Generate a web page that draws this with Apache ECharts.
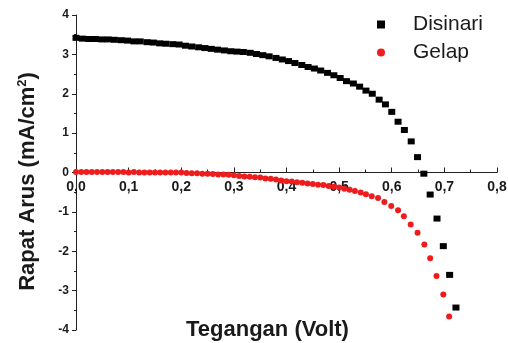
<!DOCTYPE html>
<html>
<head>
<meta charset="utf-8">
<script src="https://cdn.jsdelivr.net/npm/echarts@6/dist/echarts.min.js"></script>
<style>html,body{margin:0;padding:0;background:#fff}#c{width:508px;height:343px}</style>
</head>
<body>
<div id="c"></div>
<script>
const xTicks = [0, 0.1, 0.2, 0.3, 0.4, 0.5, 0.6, 0.7, 0.8];
const yTicks = [-4, -3, -2, -1, 0, 1, 2, 3, 4];

const disinariX = [0.000,0.012,0.024,0.037,0.049,0.061,0.073,0.086,0.098,0.110,0.122,0.135,0.147,0.159,0.171,0.184,0.196,0.208,0.220,0.233,0.245,0.257,0.269,0.282,0.294,0.306,0.318,0.331,0.343,0.355,0.367,0.380,0.392,0.404,0.416,0.429,0.441,0.453,0.465,0.478,0.490,0.502,0.514,0.527,0.539,0.551,0.563,0.576,0.588,0.600,0.612,0.624,0.637,0.649,0.661,0.673,0.686,0.698,0.710,0.722];
const disinariY = [3.42,3.40,3.39,3.39,3.38,3.38,3.37,3.36,3.35,3.33,3.33,3.31,3.30,3.28,3.27,3.26,3.25,3.22,3.20,3.18,3.16,3.14,3.12,3.10,3.08,3.07,3.06,3.04,3.01,2.98,2.95,2.91,2.87,2.83,2.78,2.73,2.68,2.64,2.59,2.53,2.47,2.40,2.32,2.26,2.18,2.08,2.00,1.85,1.73,1.54,1.29,1.08,0.79,0.39,-0.03,-0.56,-1.17,-1.87,-2.60,-3.43];

const gelapX = [0.00,0.01,0.02,0.03,0.04,0.05,0.06,0.07,0.08,0.09,0.10,0.11,0.12,0.13,0.14,0.15,0.16,0.17,0.18,0.19,0.20,0.21,0.22,0.23,0.24,0.25,0.26,0.27,0.28,0.29,0.30,0.31,0.32,0.33,0.34,0.35,0.36,0.37,0.38,0.39,0.40,0.41,0.42,0.43,0.44,0.45,0.46,0.47,0.48,0.49,0.50,0.51,0.52,0.53,0.541,0.551,0.562,0.574,0.586,0.599,0.612,0.623,0.636,0.649,0.662,0.673,0.685,0.698,0.709];
const gelapY = [0.01,0.01,0.01,0.01,0.01,0.01,0.01,0.01,0.01,0.01,0.00,0.01,0.00,0.00,0.00,0.00,0.00,0.00,0.00,0.00,0.00,-0.01,-0.02,-0.02,-0.03,-0.03,-0.04,-0.05,-0.05,-0.06,-0.07,-0.09,-0.10,-0.11,-0.12,-0.13,-0.15,-0.16,-0.18,-0.20,-0.22,-0.23,-0.25,-0.26,-0.28,-0.29,-0.31,-0.32,-0.34,-0.36,-0.38,-0.41,-0.44,-0.47,-0.51,-0.55,-0.60,-0.65,-0.75,-0.85,-0.96,-1.11,-1.32,-1.53,-1.83,-2.18,-2.63,-3.10,-3.66];

const seriesNames = ['Disinari', 'Gelap'];
const xTitle = 'Tegangan (Volt)';

const zip = (a, b) => a.map((v, i) => [v, b[i]]);
const FONT = 'Liberation Sans, Arial, sans-serif';

const chart = echarts.init(document.getElementById('c'), null, {renderer: 'canvas'});
chart.setOption({
  animation: false,
  backgroundColor: '#fff',
  grid: {left: 76, right: 11, top: 15, bottom: 13, containLabel: false, outerBoundsMode: 'none'},
  title: {
    text: xTitle, left: 186, top: 319, padding: 0,
    textStyle: {fontFamily: FONT, fontSize: 22, fontWeight: 'bold', color: '#1a1a1a'}
  },
  legend: {
    orient: 'vertical', left: 372, top: 9, itemGap: 7,
    itemWidth: 8, itemHeight: 8,
    textStyle: {fontFamily: FONT, fontSize: 21, color: '#1a1a1a', padding: [0, 0, 0, 23]},
    data: [{name: seriesNames[0], icon: 'rect'}, {name: seriesNames[1], icon: 'circle'}]
  },
  xAxis: {
    type: 'value', min: xTicks[0], max: xTicks[xTicks.length - 1], interval: 0.1,
    offset: -157.5,
    axisLine: {onZero: false, lineStyle: {color: '#222', width: 1}},
    axisTick: {inside: true, length: 5, lineStyle: {color: '#222'}},
    minorTick: {show: true, splitNumber: 2, length: 3, lineStyle: {color: '#222'}},
    splitLine: {show: false},
    axisLabel: {
      fontFamily: FONT, fontSize: 14, fontWeight: 'bold', color: '#1a1a1a', margin: 8,
      formatter: v => v.toFixed(1).replace('.', ',')
    }
  },
  yAxis: {
    type: 'value', min: yTicks[0], max: yTicks[yTicks.length - 1], interval: 1,
    name: '{a|Rapat Arus (mA/cm}{s|2}{a|)}',
    nameLocation: 'middle', nameGap: 37,
    nameTextStyle: {
      padding: [0, 18, 0, 0],
      rich: {
        a: {fontFamily: FONT, fontSize: 22, fontWeight: 'bold', color: '#1a1a1a'},
        s: {fontFamily: FONT, fontSize: 13, fontWeight: 'bold', color: '#1a1a1a', verticalAlign: 'top', padding: [0, 0, 10, 0]}
      }
    },
    axisLine: {show: true, lineStyle: {color: '#222', width: 1}},
    axisTick: {inside: false, length: 4, lineStyle: {color: '#222'}},
    minorTick: {show: true, splitNumber: 2, length: 2, lineStyle: {color: '#222'}},
    splitLine: {show: false},
    axisLabel: {fontFamily: FONT, fontSize: 12, fontWeight: 'bold', color: '#1a1a1a', margin: 7}
  },
  series: [
    {name: seriesNames[0], type: 'scatter', symbol: 'rect', symbolSize: [7, 6],
     itemStyle: {color: '#000', opacity: 1}, data: zip(disinariX, disinariY), z: 3},
    {name: seriesNames[1], type: 'scatter', symbol: 'circle', symbolSize: 6,
     itemStyle: {color: '#ee1c1c', opacity: 1}, data: zip(gelapX, gelapY), z: 2}
  ]
});
</script>
</body>
</html>
